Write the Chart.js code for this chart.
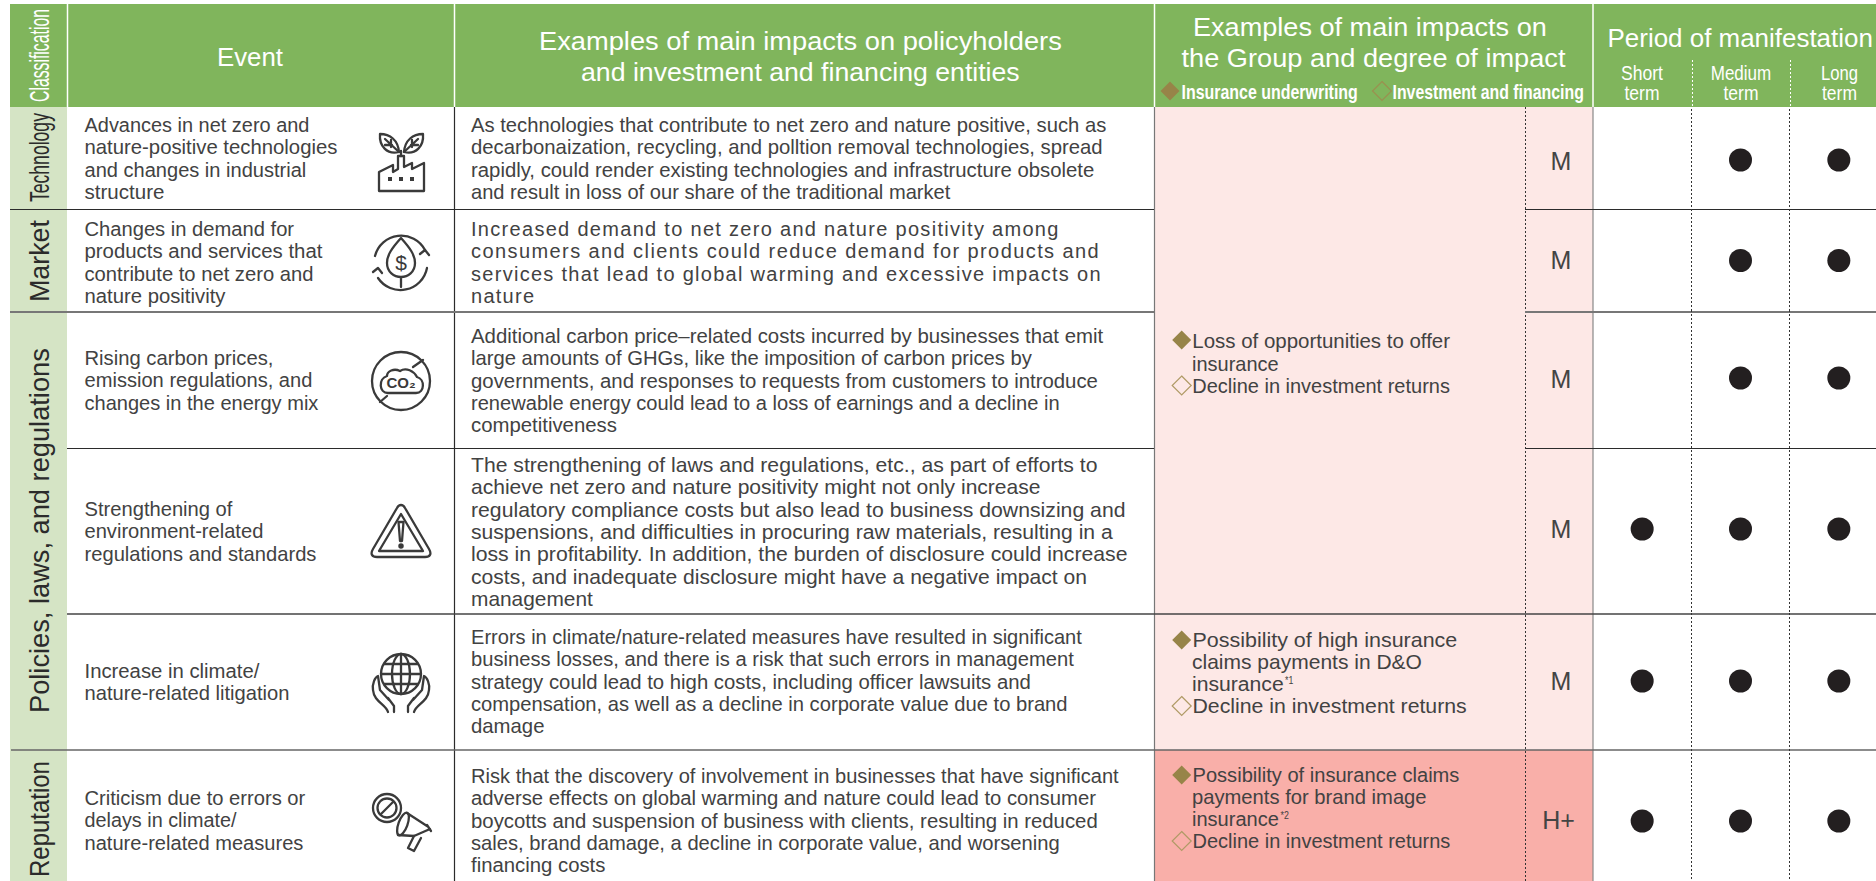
<!DOCTYPE html>
<html>
<head>
<meta charset="utf-8">
<title>Period of manifestation</title>
<script src="https://cdn.jsdelivr.net/npm/chart.js"></script>
<style>
  html, body { margin: 0; padding: 0; background: #fff; overflow: hidden; width: 1876px; height: 881px; }
  #table { position: absolute; left: 0; top: 0; }
  canvas { position: absolute; }
</style>
</head>
<body>
<svg id="table" width="1876" height="881" xmlns="http://www.w3.org/2000/svg"></svg>
<script>
// Dados da tabela
const classifications = ['Technology', 'Market', 'Policies, laws, and regulations', 'Reputation'];
const periods = ['Short term', 'Medium term', 'Long term'];
const degrees = ['M', 'M', 'M', 'M', 'M', 'H+'];
// 1 = aparece no período, null = vazio
const shortTerm = [null, null, null, 1, 1, 1];
const mediumTerm = [1, 1, 1, 1, 1, 1];
const longTerm = [1, 1, 1, 1, 1, 1];

const events = [
  ['Advances in net zero and', 'nature-positive technologies', 'and changes in industrial', 'structure'],
  ['Changes in demand for', 'products and services that', 'contribute to net zero and', 'nature positivity'],
  ['Rising carbon prices,', 'emission regulations, and', 'changes in the energy mix'],
  ['Strengthening of', 'environment-related', 'regulations and standards'],
  ['Increase in climate/', 'nature-related litigation'],
  ['Criticism due to errors or', 'delays in climate/', 'nature-related measures']
];
const policyImpacts = [
  ['As technologies that contribute to net zero and nature positive, such as', 'decarbonaization, recycling, and polltion removal technologies, spread', 'rapidly, could render existing technologies and infrastructure obsolete', 'and result in loss of our share of the traditional market'],
  ['Increased demand to net zero and nature positivity among', 'consumers and clients could reduce demand for products and', 'services that lead to global warming and excessive impacts on', 'nature'],
  ['Additional carbon price–related costs incurred by businesses that emit', 'large amounts of GHGs, like the imposition of carbon prices by', 'governments, and responses to requests from customers to introduce', 'renewable energy could lead to a loss of earnings and a decline in', 'competitiveness'],
  ['The strengthening of laws and regulations, etc., as part of efforts to', 'achieve net zero and nature positivity might not only increase', 'regulatory compliance costs but also lead to business downsizing and', 'suspensions, and difficulties in procuring raw materials, resulting in a', 'loss in profitability. In addition, the burden of disclosure could increase', 'costs, and inadequate disclosure might have a negative impact on', 'management'],
  ['Errors in climate/nature-related measures have resulted in significant', 'business losses, and there is a risk that such errors in management', 'strategy could lead to high costs, including officer lawsuits and', 'compensation, as well as a decline in corporate value due to brand', 'damage'],
  ['Risk that the discovery of involvement in businesses that have significant', 'adverse effects on global warming and nature could lead to consumer', 'boycotts and suspension of business with clients, resulting in reduced', 'sales, brand damage, a decline in corporate value, and worsening', 'financing costs']
];

// Layout (px)
const GREEN = '#80b55c', CLASS_BG = '#d5e4c5', PINK = '#fde8e6', RED = '#f9afa9', INK = '#424242', GOLD = '#978448';
const FONT = '"Liberation Sans"';
const rowEdges = [107, 209, 312, 448, 614, 750, 894];
const rowShift = [2, 0, -2, -2, -1, -1];
const PITCH = 22.3;

const svg = document.getElementById('table');
const measure = document.createElement('canvas').getContext('2d');

function el(name, attrs, parent) {
  const node = document.createElementNS('http://www.w3.org/2000/svg', name);
  for (const k in attrs) node.setAttribute(k, attrs[k]);
  (parent || svg).appendChild(node);
  return node;
}
function rect(x, y, w, h, fill) { return el('rect', { x, y, width: w, height: h, fill }); }
function line(x1, y1, x2, y2, stroke, width, dash) {
  const attrs = { x1, y1, x2, y2, stroke, 'stroke-width': width || 1 };
  if (dash) attrs['stroke-dasharray'] = dash;
  return el('line', attrs);
}
function textWidth(str, size, weight, family) {
  measure.font = (weight || 'normal') + ' ' + size + 'px ' + (family || FONT);
  return measure.measureText(str).width;
}
// escreve uma linha com escala horizontal opcional
function put(str, x, y, size, o) {
  o = o || {};
  const sx = o.sx || 1;
  const t = el('text', {
    transform: 'translate(' + x + ',' + y + ')' + (o.rotate ? ' rotate(-90)' : '') + ' scale(' + sx + ',1)',
    'font-family': o.family || FONT, 'font-size': size, 'font-weight': o.weight || 'normal',
    fill: o.fill || INK, 'text-anchor': o.anchor || 'start'
  });
  if (o.spacing) t.setAttribute('letter-spacing', o.spacing);
  t.textContent = str;
  return t;
}
function fitted(str, x, y, size, target, o) {
  o = o || {};
  const w = textWidth(str, size, o.weight, o.family);
  return put(str, x, y, size, Object.assign({ sx: target / w }, o));
}
// bloco de linhas, cada uma ajustada à sua largura
function block(lines, x, firstBase, size, widths, spaced) {
  lines.forEach((s, i) => {
    const y = firstBase + i * PITCH;
    if (spaced) put(s, x, y, size, { spacing: (widths[i] - textWidth(s, size)) / (s.length - 1) });
    else fitted(s, x, y, size, widths[i]);
  });
}
function diamond(cx, cy, filled, outline) {
  el('path', {
    d: 'M' + cx + ' ' + (cy - 9.5) + ' L' + (cx + 9.5) + ' ' + cy + ' L' + cx + ' ' + (cy + 9.5) + ' L' + (cx - 9.5) + ' ' + cy + ' Z',
    fill: filled ? GOLD : 'none', stroke: filled ? GOLD : (outline || '#b09a66'), 'stroke-width': filled ? 0 : 1.2
  });
}

// Fundos
rect(10, 4, 1866, 103, GREEN);
rect(10, 107, 57, 774, CLASS_BG);
rect(1154, 107, 439, 643, PINK);
rect(1154, 750, 439, 131, RED);

// Linhas de separação
line(67.5, 4, 67.5, 107, '#fff', 1.5);
line(454.5, 4, 454.5, 107, '#fff', 1.5);
line(1154.5, 4, 1154.5, 107, '#fff', 1.5);
line(1593, 4, 1593, 107, '#fff', 1.5);
line(454.5, 107, 454.5, 881, '#2b2b2b', 1.2);
line(1154.5, 107, 1154.5, 881, '#777', 1.2);
line(1593, 107, 1593, 881, '#888', 1.2);
line(1525.5, 107, 1525.5, 881, '#333', 1, '2 2');
line(1692.5, 60, 1692.5, 107, '#fff', 1, '2 2');
line(1790.5, 60, 1790.5, 107, '#fff', 1, '2 2');
line(10, 209.5, 1154, 209.5, '#2b2b2b', 1.2);
line(1525, 209.5, 1876, 209.5, '#2b2b2b', 1.2);
line(10, 312, 1154, 312, '#777', 2);
line(1525, 312, 1876, 312, '#777', 2);
line(67, 448.5, 1154, 448.5, '#2b2b2b', 1.2);
line(1525, 448.5, 1876, 448.5, '#2b2b2b', 1.2);
line(67, 614, 1876, 614, '#444', 1.4);
line(11, 750, 1876, 750, '#666', 1.4);

// Cabeçalho
const WHITE = { fill: '#fff' };
fitted('Classification', 49, 102, 27, 93, { rotate: true, fill: '#fff' });
fitted('Event', 217, 66, 25.5, 66, WHITE);
fitted('Examples of main impacts on policyholders', 539, 50, 25.5, 523, WHITE);
fitted('and investment and financing entities', 581, 81, 25.5, 439, WHITE);
fitted('Examples of main impacts on', 1193, 36, 25.5, 354, WHITE);
fitted('the Group and degree of impact', 1181.5, 67, 25.5, 384, WHITE);
diamond(1170, 91, true);
fitted('Insurance underwriting', 1181.5, 99, 20, 176.5, { fill: '#fff', weight: 'bold' });
diamond(1382, 91, false, '#9a9050');
fitted('Investment and financing', 1392.5, 99, 20, 191.5, { fill: '#fff', weight: 'bold' });
fitted('Period of manifestation', 1607.5, 47, 25.5, 265.5, WHITE);
const headerCenters = [1642, 1741, 1839.5];
const headerTop = [['Short', 42], ['Medium', 60.6], ['Long', 37]];
headerTop.forEach((h, i) => {
  fitted(h[0], headerCenters[i] - h[1] / 2, 80, 20, h[1], WHITE);
  fitted('term', headerCenters[i] - 17.5, 100, 20, 35, WHITE);
});

// Classificação (texto rodado)
fitted(classifications[0], 49, 202, 27, 89, { rotate: true, fill: '#2b2b2b' });
fitted(classifications[1], 49, 302, 27, 82, { rotate: true, fill: '#2b2b2b' });
fitted(classifications[2], 49, 713, 27, 365, { rotate: true, fill: '#2b2b2b' });
fitted(classifications[3], 49, 877, 27, 116, { rotate: true, fill: '#2b2b2b' });

// Evento
const eventFirstBase = [132, 236, 365, 516, 678, 805];
const eventWidths = [
  [225, 253, 222, 80],
  [209.7, 238, 229, 141],
  [189, 228, 234],
  [148, 179, 232],
  [175, 205],
  [221, 152, 219]
];
events.forEach((lines, i) => block(lines, 84.5, eventFirstBase[i], 21, eventWidths[i]));

// Impactos nos segurados
const policyFirstBase = [132, 236, 343, 472, 644, 783];
const policyWidths = [
  [635.5, 632, 623.7, 479.5],
  [587.4, 627.7, 629.5, 63],
  [632.5, 561, 627.5, 588.5, 146],
  [627, 570, 655, 642, 657, 616.5, 122],
  [611.5, 603, 560, 597, 73.5],
  [647.5, 625.5, 627, 589, 134.5]
];
policyImpacts.forEach((lines, i) => block(lines, 471, policyFirstBase[i], 20, policyWidths[i], i === 1));

// Impactos no grupo
diamond(1181.7, 340, true);
fitted('Loss of opportunities to offer', 1192.3, 348.3, 20, 258);
fitted('insurance', 1192, 371, 20, 86.7);
diamond(1181.7, 385.5, false);
fitted('Decline in investment returns', 1192.3, 393, 20, 257.7);

diamond(1181.7, 640, true);
fitted('Possibility of high insurance', 1192.5, 647, 21, 265);
fitted('claims payments in D&O', 1192, 669, 21, 230);
fitted('insurance', 1192, 691, 21, 91.7);
put('*1', 1285, 684, 11, { sx: 0.8 });
diamond(1181.7, 706, false);
fitted('Decline in investment returns', 1192.5, 713, 21, 274.5);

diamond(1181.7, 775, true);
fitted('Possibility of insurance claims', 1192.5, 782, 21, 267);
fitted('payments for brand image', 1192, 804, 21, 234.7);
fitted('insurance', 1192, 826, 21, 87);
put('*2', 1280.5, 819, 11, { sx: 0.8 });
diamond(1181.7, 841, false);
fitted('Decline in investment returns', 1192.5, 848, 21, 258);

// Grau de impacto
const degreeBase = [170, 269, 388, 538, 690, 829];
degrees.forEach((d, i) => {
  put(d, d === 'M' ? 1561 : 1558.5, degreeBase[i], 25, { anchor: 'middle', fill: '#444' });
});

// Ícones
const icons = el('g', { fill: 'none', stroke: '#3a3a3a', 'stroke-width': 2.3, 'stroke-linejoin': 'round', 'stroke-linecap': 'round' });
function ipath(d, extra) { return el('path', Object.assign({ d }, extra || {}), icons); }
// fábrica com folhas
ipath('M379 191 V172 L393 165 V172 L398 169 V156 H404 V167 L412 163 V169 L424 163 V191 Z');
ipath('M399 152 C398 140 390 134 380 134 C379 146 387 155 399 152 Z');
ipath('M404 152 C405 140 413 134 423 134 C424 146 416 155 404 152 Z');
ipath('M401 156 V151 M399 152 L385 139 M404 152 L418 139 M391 140 V147 M412 140 V147 M385 145 H392 M411 145 H418');
[390, 401, 412].forEach(x => el('rect', { x: x - 2, y: 177, width: 4, height: 4, fill: '#3a3a3a', stroke: 'none' }, icons));
// folha com cifrão e setas
ipath('M375 256 A27 27 0 0 1 425 250');
ipath('M429 255 L425 250 L420 254');
ipath('M427 268 A27 27 0 0 1 378 278');
ipath('M373 272 L378 268 L382 273');
ipath('M401 238 C392 248 387 255 387 263 C387 272 394 277 401 277 C408 277 415 272 415 263 C415 255 410 248 401 238 Z M401 277 V287');
put('$', 401, 270, 21, { anchor: 'middle', fill: '#3a3a3a' });
// CO2 proibido
el('circle', { cx: 401, cy: 381, r: 29 }, icons);
ipath('M380 402 L387 396 M413 367 L423 360');
ipath('M388 393 H416 C425 393 425 379 417 377 C414 371 406 367 400 371 C394 368 387 371 387 376 C378 379 379 393 388 393 Z');
put('CO₂', 401, 388, 15, { anchor: 'middle', fill: '#3a3a3a', weight: 'bold' });
// aviso
ipath('M401 505 C403 505 404 506 405 508 L429 549 C432 554 430 557 425 557 H377 C372 557 370 554 373 549 L397 508 C398 506 399 505 401 505 Z');
ipath('M401 514 L423 551 H379 Z');
ipath('M398.5 522 H403.5 L402 541 H400 Z');
el('circle', { cx: 401, cy: 546, r: 1.6, fill: '#3a3a3a' }, icons);
// globo e mãos
el('circle', { cx: 401, cy: 674, r: 20 }, icons);
el('ellipse', { cx: 401, cy: 674, rx: 9, ry: 20 }, icons);
ipath('M401 654 V694 M381 674 H421 M384 664 H418 M384 684 H418');
ipath('M388 712 C386 704 374 702 373 690 C372 684 375 677 378 676 L380 690 L389 700 M394 712 V706 L388 698');
ipath('M414 712 C416 704 428 702 429 690 C430 684 427 677 424 676 L422 690 L413 700 M408 712 V706 L414 698');
// proibição e megafone
el('circle', { cx: 387, cy: 808, r: 14 }, icons);
el('circle', { cx: 387, cy: 808, r: 9.5 }, icons);
ipath('M381 814 L393 802');
el('ellipse', { cx: 403, cy: 824, rx: 4.5, ry: 12, transform: 'rotate(20 403 824)' }, icons);
ipath('M407 813 L427 826 M430 829 L414 836 M398 835 L414 836 M427 825 L431 831');
ipath('M414 836 L408 848 L414 851 L421 838');

// Gráfico: uma linha da tabela por canvas, com as colunas de período
const PERIOD_LEFT = 1593, PERIOD_WIDTH = 295;
const charts = [];
for (let i = 0; i < degrees.length; i++) {
  const canvas = document.createElement('canvas');
  const h = rowEdges[i + 1] - rowEdges[i];
  canvas.width = PERIOD_WIDTH;
  canvas.height = h;
  canvas.style.left = PERIOD_LEFT + 'px';
  canvas.style.top = (rowEdges[i] + rowShift[i]) + 'px';
  canvas.style.width = PERIOD_WIDTH + 'px';
  canvas.style.height = h + 'px';
  document.body.appendChild(canvas);
  charts.push(new Chart(canvas.getContext('2d'), {
    type: 'line',
    data: {
      labels: periods,
      datasets: [{
        label: events[i].join(' '),
        data: [shortTerm[i], mediumTerm[i], longTerm[i]],
        showLine: false,
        pointRadius: 11.5,
        pointBackgroundColor: '#231f20',
        pointBorderWidth: 0
      }]
    },
    options: {
      responsive: false,
      animation: false,
      layout: { padding: 0, autoPadding: false },
      plugins: { legend: { display: false }, tooltip: { enabled: false } },
      scales: {
        x: {
          type: 'category',
          offset: true,
          ticks: { display: false },
          border: { display: false, dash: [2, 2] },
          grid: {
            drawTicks: false,
            offset: true,
            lineWidth: 1,
            color: c => (c.index === 1 || c.index === 2) ? '#333' : 'rgba(0,0,0,0)'
          }
        },
        y: { display: false, min: 0, max: 2 }
      }
    }
  }));
}
</script>
</body>
</html>
